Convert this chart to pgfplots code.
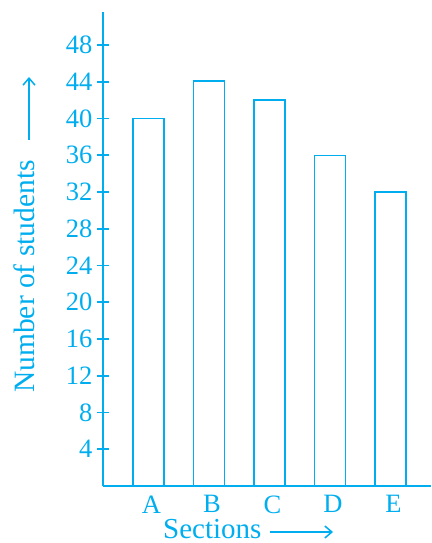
\documentclass[border=0pt]{standalone}
\usepackage{pgfplots}
\pgfplotsset{compat=1.18}
\usepackage{fontspec}
\setmainfont{Liberation Serif}
\usetikzlibrary{arrows.meta}
\definecolor{ncyan}{RGB}{0,174,239}
\begin{document}
\begin{tikzpicture}
\path[use as bounding box] (0,0) rectangle (431pt,543pt);
\begin{axis}[
  at={(103pt,57pt)}, anchor=south west,
  scale only axis, width=328pt, height=474pt,
  xmin=-0.75, xmax=4.67, ymin=0, ymax=51.6,
  axis x line*=bottom, axis y line*=left,
  axis line style={ncyan, line width=2pt, -},
  ytick={4,8,...,48},
  xtick={0,1,2,3,4}, xticklabels={A,B,C,D,E},
  tick align=center, major tick length=12pt,
  y tick style={ncyan, line width=1.8pt},
  x tick style={draw=none},
  tick label style={font=\fontsize{26.5}{30}\selectfont, text=ncyan},
  /pgf/number format/assume math mode=true,
  xticklabel style={xshift=3pt, yshift=0pt},
  yticklabel style={xshift=-1pt},
  clip=false,
]
\addplot[ybar, bar width=31pt, draw=ncyan, fill=white, line width=1.5pt]
  coordinates {(0,40) (1,44.1) (2,42) (3,36) (4,32)};
\end{axis}
\node[rotate=90, anchor=base west, inner sep=0pt, text=ncyan, font=\fontsize{29.5}{32}\selectfont] at (35pt,150pt) {Number of students};
\draw[ncyan, line width=1.5pt, -{Straight Barb[length=7pt,width=12pt]}] (29pt,403pt) -- (29pt,466pt);
\node[anchor=base west, inner sep=0pt, text=ncyan, font=\fontsize{29}{32}\selectfont] at (163pt,5pt) {Sections};
\draw[ncyan, line width=1.5pt, -{Straight Barb[length=7pt,width=12pt]}] (270pt,11pt) -- (333pt,11pt);
\end{tikzpicture}
\end{document}
